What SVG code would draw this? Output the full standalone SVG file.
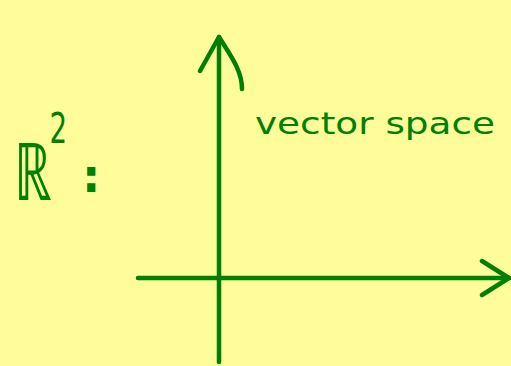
<svg xmlns="http://www.w3.org/2000/svg" width="511" height="366" viewBox="0 0 511 366">
<style>
.ink{fill:none;stroke:#008000;stroke-width:4.5;stroke-linecap:round;stroke-linejoin:round}
.t{fill:#008000;font-family:"DejaVu Sans","Liberation Sans",sans-serif}
</style>
<rect width="511" height="366" fill="#fffd99"/>
<g id="label-r2">
<text class="t" transform="translate(14,200) scale(0.66,1)" font-size="80" font-weight="200">ℝ<tspan font-size="42" font-weight="normal" dx="-3" dy="-57">2</tspan></text>
<text class="t" x="82" y="192" font-size="46" font-weight="bold">:</text>
</g>
<g id="axes">
<path class="ink" d="M219 362 L219 37"/>
<path class="ink" d="M200 71 L219 37 C230 55 242 70 242 89"/>
<path class="ink" d="M138 278 L509 278"/>
<path class="ink" d="M482 261 L509 278 L482 295"/>
</g>
<g id="label-vs">
<text class="t" x="255" y="134" font-size="31" textLength="240" lengthAdjust="spacingAndGlyphs">vector space</text>
</g>
</svg>
